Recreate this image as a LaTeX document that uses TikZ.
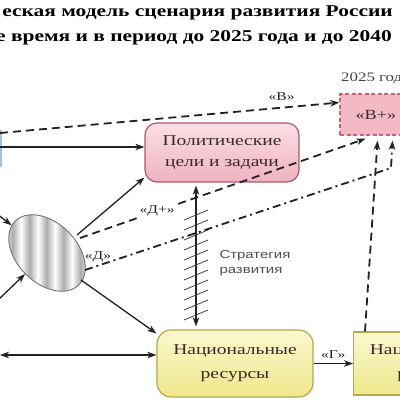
\documentclass[tikz,border=0pt]{standalone}
\usepackage{fontspec}
\setmainfont{Liberation Serif}[FakeStretch=1.3]
\setsansfont{Liberation Sans}[FakeStretch=1.3]
\usetikzlibrary{arrows.meta,shapes.geometric,calc}
\definecolor{pinkT}{HTML}{FADFE5}
\definecolor{pinkB}{HTML}{EFB2C0}
\definecolor{pinkD}{HTML}{A85A6A}
\definecolor{pinkF}{HTML}{F3BAC6}
\definecolor{pinkDash}{HTML}{C66477}
\definecolor{yelT}{HTML}{FBF9CF}
\definecolor{yelB}{HTML}{EEE78C}
\definecolor{yelD}{HTML}{B3A947}
\definecolor{ink}{HTML}{222222}
\definecolor{boxtxt}{HTML}{3A2A2A}
\definecolor{lblue}{HTML}{9EC3E3}
\pgfdeclarehorizontalshading{stripes}{100bp}{color(0bp)=(white);color(25bp)=(white);color(30bp)=(gray!65);color(35bp)=(white);color(40bp)=(gray!65);color(45bp)=(white);color(50bp)=(gray!65);color(55bp)=(white);color(60bp)=(gray!65);color(65bp)=(white);color(70bp)=(gray!65);color(75bp)=(white);color(100bp)=(white)}
\tikzset{
  tip/.tip={Stealth[length=9pt,width=6.5pt,inset=2.5pt]},
  arr/.style={draw=ink,line width=1.3pt,-tip},
  dsh/.style={draw=ink,line width=1.8pt,dash pattern=on 8pt off 5pt,-tip},
  dshdot/.style={draw=ink,line width=1.8pt,dash pattern=on 8pt off 4pt on 2pt off 4pt,-tip},
  polbox/.style={draw=pinkD,line width=1.2pt,rounded corners=12pt,top color=pinkT,bottom color=pinkB,minimum width=154pt,minimum height=59pt,align=center,font=\fontsize{15}{21}\selectfont,text=boxtxt},
  resbox/.style={draw=yelD,line width=1.2pt,rounded corners=14pt,top color=yelT,bottom color=yelB,minimum width=156pt,minimum height=67pt,align=center,font=\fontsize{15}{24}\selectfont,text=boxtxt},
  res2box/.style={draw=yelD,line width=1.2pt,top color=yelT,bottom color=yelB,minimum width=156pt,minimum height=63pt,align=center,font=\fontsize{15}{24}\selectfont,text=boxtxt},
  bpbox/.style={draw=pinkDash,line width=1.4pt,dash pattern=on 4pt off 2.5pt,fill=pinkF,minimum width=75pt,minimum height=41pt},
  lbl/.style={font=\fontsize{12}{14}\selectfont,text=ink,inner sep=1pt},
  ttl/.style={font=\fontsize{16.5}{20}\bfseries\selectfont,text=black,inner sep=0pt},
  hatch/.style={draw=ink!85,line width=0.8pt}
}
\begin{document}
\begin{tikzpicture}[x=1pt,y=-1pt]
\useasboundingbox (0,0) rectangle (400,400);
\clip (0,0) rectangle (400,400);
\fill[white] (0,0) rectangle (400,400);
% title
\node[ttl,anchor=east] (t1) at (393,13) {еская модель сценария развития России};
\node[ttl,anchor=east] (t2) at (392,38) {е время и в период до 2025 года и до 2040};
% left blue fragment
\draw[lblue,line width=1.5pt] (0.8,130) -- (0.8,167);
% boxes
\node[polbox] (Pol) at (222,152.5) {Политические\\цели и задачи};
\node[bpbox] (B) at (377.5,114.5) {};
\node[font=\fontsize{14}{16}\selectfont,text=boxtxt,anchor=west] (Bt) at (352,115) {«В+»};
\node[font=\fontsize{13}{15}\selectfont,text=ink!85,anchor=west,inner sep=0pt] (yr) at (341,78) {2025 год};
\node[resbox] (NR) at (235,363.5) {Национальные\\ресурсы};
\node[res2box,anchor=west] (NR2) at (353,363.5) {Национальные\\ресурсы};
% ellipse
\begin{scope}
\clip[rotate around={-45:(47,253)}] (47,253) ellipse [x radius=45, y radius=30];
\shade[shading=stripes] (4,205) rectangle (89,300);
\end{scope}
\node[ellipse,draw=gray!90!black,line width=0.9pt,minimum width=90pt,minimum height=60pt,inner sep=0pt,rotate=-45] (E) at (47,253) {};
% coordinates
\coordinate (L1) at (0,147);
\coordinate (L2) at (0,133);
\coordinate (L3) at (0,355);
\coordinate (L4) at (-8,210);
\coordinate (L5) at (-2,300);
\coordinate (e1) at (77,235);
\coordinate (e2) at (80,238);
\coordinate (e3) at (85,270);
\coordinate (e4) at (81,280);
\coordinate (bend) at (391,168);
\coordinate (sx) at (196,250);
% connectors
\draw[arr] (L1) -- (L1 -| Pol.west);
\draw[dsh] (L2) -- ([yshift=12pt]B.west) node[pos=0.83,lbl,anchor=south,yshift=5pt] {«В»};
\draw[arr] (e1) -- ([yshift=5pt]Pol.south west);
\draw[dsh] (e2) -- ([xshift=-12pt,yshift=-3pt]B.south) node[pos=0.27,lbl,fill=white,inner sep=1.5pt] {«Д+»};
\draw[dshdot] (e3) -- (bend) -- ([xshift=15pt,yshift=-5pt]B.south);
\node[lbl] (dl) at (98,257) {«Д»};
\draw[dsh] ([xshift=12pt]NR2.north west) -- ([yshift=-5pt]B.south);
\draw[arr] (e4) -- ([yshift=-4pt]NR.north west);
\draw[arr,tip-tip] (L3) -- (L3 -| NR.west);
\draw[arr] (L4) -- (E);
\draw[arr] (L5) -- (E);
\draw[arr] (NR.east) -- (NR2.west) node[midway,lbl,anchor=south,yshift=3pt] {«Г»};
% strategy
\draw[arr,tip-tip,shorten <=3pt,shorten >=3pt] (Pol.south -| sx) -- (NR.north -| sx);
\foreach \y in {215,225,...,315} \draw[hatch] (184,\y+5) -- (208,\y-5);
\node[font=\sffamily\fontsize{11.5}{15}\selectfont,text=ink!80,align=left,anchor=west] (st) at (216,263) {Стратегия\\развития};
\end{tikzpicture}
\end{document}
